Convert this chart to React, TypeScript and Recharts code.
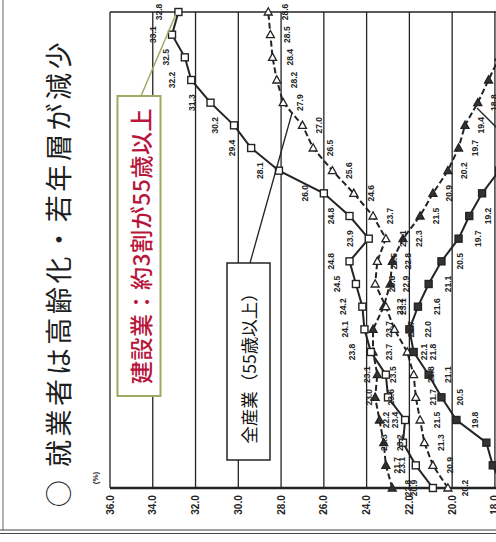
import React from "react";
import { LineChart, Line, XAxis, YAxis, CartesianGrid, ReferenceLine, LabelList } from "recharts";

// categories (year axis is cut off in the scan)
const years = [
  "1990", "1991", "1992", "1993", "1994", "1995", "1996", "1997", "1998", "1999", "2000",
  "2001", "2002", "2003", "2004", "2005", "2006", "2007", "2008", "2009", "2010", "2011",
];

// 建設業 55歳以上 (open squares)
const kensetsu55 = [20.9, 21.7, 22.3, 22.2, 23.0, 23.1, 23.8, 24.1, 24.2, 24.5, 24.8, 23.9, 24.8, 26.0, 28.1, 29.4, 30.2, 31.3, 32.2, 32.5, 33.1, 32.8];
// 全産業 55歳以上 (open triangles, dashed)
const zensangyo55 = [20.2, 20.9, 21.3, 21.5, 21.7, 21.8, 22.1, 22.7, 23.1, 23.6, 23.5, 23.1, 23.7, 24.6, 25.6, 26.5, 27.0, 27.9, 28.2, 28.4, 28.5, 28.6];
// 建設業 29歳以下 (filled squares)
const kensetsu29 = [17.6, 18.1, 18.4, 19.8, 20.5, 21.1, 21.8, 22.0, 21.6, 21.1, 20.5, 19.7, 19.2, 18.6, 17.8, 17.0, 16.1, 15.0, 13.9, 12.6, 11.7, 11.2];
// 全産業 29歳以下 (filled triangles, dashed)
const zensangyo29 = [22.8, 23.1, 23.2, 23.4, 23.6, 23.5, 23.7, 23.7, 23.2, 22.9, 22.8, 22.3, 21.5, 20.9, 20.2, 19.7, 19.4, 18.8, 18.3, 17.8, 17.5, 17.3];

const valueTicks = [10, 12, 14, 16, 18, 20, 22, 24, 26, 28, 30, 32, 34, 36];

const chartData = years.map((year, i) => ({
  year,
  c55: kensetsu55[i],
  a55: zensangyo55[i],
  c29: kensetsu29[i],
  a29: zensangyo29[i],
}));

const INK = "#232323";
const JP = "'Noto Sans CJK JP', 'Noto Sans', sans-serif";
const NUM = "'Liberation Sans', Arial, sans-serif";

const Square = ({ cx, cy, filled }: any) => {
  if (cx == null || cy == null) return null;
  return (
    <rect x={cx - 3.5} y={cy - 3.5} width={7} height={7}
      fill={filled ? "#333" : "#fff"} stroke={INK} strokeWidth={1.4} />
  );
};

const Triangle = ({ cx, cy, filled }: any) => {
  if (cx == null || cy == null) return null;
  return (
    <polygon points={`${cx},${cy - 4.2} ${cx + 4},${cy + 3} ${cx - 4},${cy + 3}`}
      fill={filled ? "#333" : "#fff"} stroke={INK} strokeWidth={1.3} />
  );
};

const makeLabel = (dx: number) => (props: any) => {
  const vb = props.viewBox || {};
  const x = props.x ?? vb.x;
  const y = props.y ?? vb.y;
  if (x == null || y == null || props.value == null) return null;
  return (
    <text transform={`translate(${x + dx},${y}) rotate(-90)`} textAnchor="middle"
      dominantBaseline="central" fontSize={8.5} fontWeight="bold" fill={INK} fontFamily={NUM}>
      {Number(props.value).toFixed(1)}
    </text>
  );
};

const ValueTick = ({ x, payload }: any) => (
  <text transform={`translate(${x},505) rotate(-90)`} textAnchor="middle" dominantBaseline="central"
    fontSize={10} fontWeight="bold" fill={INK} fontFamily={NUM}>
    {Number(payload.value).toFixed(1)}
  </text>
);

export default function App() {
  return (
    <div style={{ position: "fixed", left: 0, top: 0, width: 496, height: 542, overflow: "hidden", background: "#fff" }}>
      <div style={{ position: "absolute", left: 0, top: 0 }}>
        <LineChart width={670} height={542} data={chartData} layout="vertical"
          margin={{ top: 12, right: 4, left: 110, bottom: 0 }}>
          <CartesianGrid horizontal={false} stroke={INK} strokeWidth={1.3} strokeOpacity={1} />
          <XAxis type="number" domain={[10, 36]} ticks={valueTicks} reversed height={54}
            tickLine={false} axisLine={{ stroke: INK, strokeWidth: 2.6 }} tick={<ValueTick />} />
          <YAxis type="category" dataKey="year" reversed hide />
          <ReferenceLine y="2011" stroke={INK} strokeWidth={1.3} />

          <Line dataKey="a29" stroke={INK} strokeWidth={2} strokeDasharray="6 3"
            dot={<Triangle filled />} isAnimationActive={false}>
            <LabelList dataKey="a29" content={makeLabel(16)} />
          </Line>
          <Line dataKey="a55" stroke={INK} strokeWidth={2} strokeDasharray="6 3"
            dot={<Triangle />} isAnimationActive={false}>
            <LabelList dataKey="a55" content={makeLabel(17)} />
          </Line>
          <Line dataKey="c29" stroke={INK} strokeWidth={2}
            dot={<Square filled />} isAnimationActive={false}>
            <LabelList dataKey="c29" content={makeLabel(19)} />
          </Line>
          <Line dataKey="c55" stroke={INK} strokeWidth={2}
            dot={<Square />} isAnimationActive={false}>
            <LabelList dataKey="c55" content={makeLabel(-19)} />
          </Line>
        </LineChart>
      </div>

      <svg width={496} height={542} style={{ position: "absolute", left: 0, top: 0, pointerEvents: "none" }}>
        {/* page frame of the scan */}
        <line x1={3} y1={0} x2={3} y2={530} stroke="#666" strokeWidth={1} />
        <line x1={0} y1={530} x2={496} y2={530} stroke="#444" strokeWidth={1.2} />
        <line x1={0} y1={533.5} x2={496} y2={533.5} stroke="#444" strokeWidth={1.2} />

        <text transform="translate(57,273) rotate(-90)" textAnchor="middle" dominantBaseline="central"
          fontSize={27} letterSpacing={3.6} fill="#1e1e1e" fontFamily={JP}>
          ○ 就業者は高齢化・若年層が減少
        </text>
        <text transform="translate(95,478) rotate(-90)" textAnchor="middle" dominantBaseline="central"
          fontSize={8} fontWeight="bold" fill={INK} fontFamily={NUM}>
          (%)
        </text>

        {/* 建設業 callout */}
        <line x1={141} y1={96} x2={176} y2={14} stroke="#9bab63" strokeWidth={1.5} />
        <rect x={117.5} y={96} width={43} height={300} fill="#fff" stroke="#9bab63" strokeWidth={2} />
        <text transform="translate(139.5,246) rotate(-90)" textAnchor="middle" dominantBaseline="central"
          fontSize={23} letterSpacing={0.5} fontWeight={500} fill="#b8173c" fontFamily={JP}>
          建設業：約3割が55歳以上
        </text>

        {/* 全産業 callout */}
        <line x1={250} y1={263} x2={292} y2={113} stroke={INK} strokeWidth={1.3} />
        <rect x={227} y={263} width={43} height={197} fill="#fff" stroke={INK} strokeWidth={1.5} />
        <text transform="translate(248.5,364) rotate(-90)" textAnchor="middle" dominantBaseline="central"
          fontSize={17.5} fill="#111" fontFamily={JP}>
          全産業（55歳以上）
        </text>

        {/* callout leading to the cut-off box on the right */}
        <line x1={477} y1={108} x2={500} y2={131} stroke={INK} strokeWidth={1.3} />
      </svg>
    </div>
  );
}
